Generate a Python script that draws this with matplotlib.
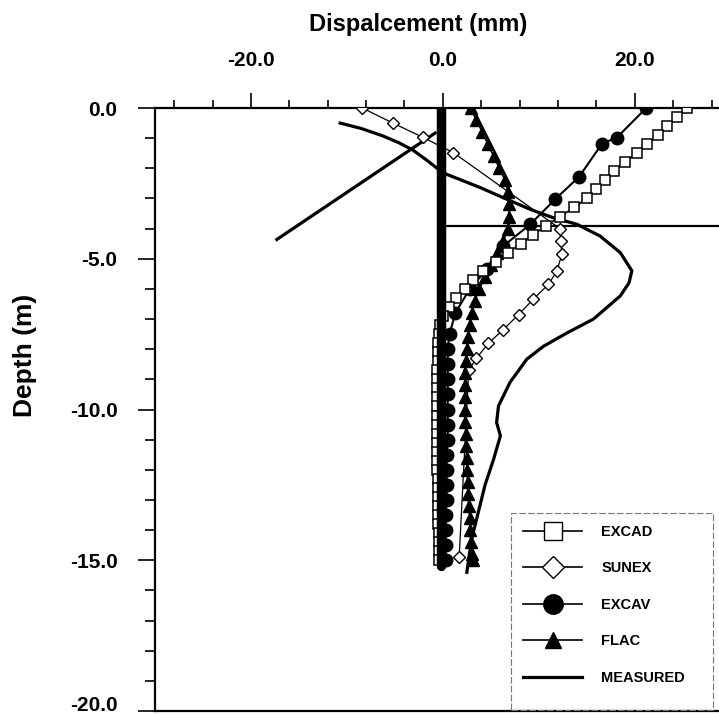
import matplotlib
matplotlib.use("Agg")
import matplotlib.pyplot as plt
from matplotlib.lines import Line2D
from matplotlib.patches import Rectangle

plt.rcParams['font.family'] = ['Liberation Sans', 'DejaVu Sans']
plt.rcParams['font.weight'] = 'bold'

# ---- data (displacement mm, depth m) ----
excad_d = [0.0, -0.3, -0.6, -0.9, -1.2, -1.5, -1.8, -2.1, -2.4, -2.7, -3.0,
           -3.3, -3.6, -3.9, -4.2, -4.5, -4.8, -5.1, -5.4, -5.7, -6.0, -6.3,
           -6.6, -6.9, -7.2, -7.5, -7.8, -8.1, -8.4, -8.7, -9.0, -9.3, -9.6,
           -9.9, -10.2, -10.5, -10.8, -11.1, -11.4, -11.7, -12.0, -12.3,
           -12.6, -12.9, -13.2, -13.5, -13.8, -14.1, -14.4, -14.7, -15.0]
excad_x = [25.4, 24.4, 23.4, 22.4, 21.3, 20.2, 19.0, 17.8, 16.9, 16.0, 15.0,
           13.7, 12.2, 10.8, 9.4, 8.1, 6.8, 5.5, 4.2, 3.1, 2.3, 1.4,
           0.6, 0.0, -0.3, -0.4, -0.5, -0.5, -0.5, -0.6, -0.6, -0.6, -0.6,
           -0.6, -0.6, -0.6, -0.6, -0.6, -0.6, -0.6, -0.6, -0.5,
           -0.5, -0.5, -0.5, -0.5, -0.5, -0.4, -0.4, -0.4, -0.4]

sunex_d = [0.0, -0.5, -0.97, -1.48, -4.0, -4.4, -4.85, -5.4, -5.85, -6.35,
           -6.85, -7.35, -7.8, -8.3, -8.7, -14.9]
sunex_x = [-8.4, -5.2, -2.1, 1.1, 12.2, 12.3, 12.4, 11.9, 11.0, 9.4,
           7.9, 6.3, 4.75, 3.5, 2.7, 1.7]

excav_d = [0.0, -0.99, -1.18, -2.28, -3.03, -3.86, -4.58, -5.35, -6.0, -6.8,
           -7.5, -8.0, -8.5, -9.0, -9.5, -10.0, -10.5, -11.0, -11.5, -12.0,
           -12.5, -13.0, -13.5, -14.0, -14.5, -15.0]
excav_x = [21.2, 18.1, 16.6, 14.2, 11.7, 9.1, 6.3, 4.6, 2.8, 1.3,
           0.7, 0.5, 0.5, 0.5, 0.5, 0.5, 0.5, 0.5, 0.4, 0.4,
           0.4, 0.4, 0.3, 0.3, 0.3, 0.3]

flac_d = [0.0, -0.4, -0.8, -1.2, -1.6, -2.0, -2.4, -2.8, -3.2, -3.6, -4.0,
          -4.4, -4.8, -5.2, -5.6, -6.0, -6.4, -6.8, -7.2, -7.6, -8.0, -8.4,
          -8.8, -9.2, -9.6, -10.0, -10.4, -10.8, -11.2, -11.6, -12.0, -12.4,
          -12.8, -13.2, -13.6, -14.0, -14.4, -14.8, -15.0]
flac_x = [2.9, 3.5, 4.1, 4.7, 5.3, 5.9, 6.5, 6.8, 6.9, 6.9, 6.8,
          6.3, 5.6, 5.0, 4.4, 3.8, 3.3, 3.0, 2.8, 2.6, 2.5, 2.4,
          2.3, 2.3, 2.3, 2.3, 2.3, 2.4, 2.4, 2.5, 2.5, 2.6,
          2.6, 2.7, 2.8, 2.8, 2.9, 3.0, 3.1]

measured_d = [-0.5, -0.68, -0.92, -1.15, -1.4, -1.75, -2.0, -2.2, -2.4, -2.64,
              -2.85, -3.03, -3.36, -3.64, -3.86, -4.25, -4.8, -5.4, -5.8,
              -6.23, -7.0, -7.45, -7.9, -8.33, -9.1, -9.88, -10.43, -10.87,
              -11.64, -12.5, -13.4, -14.3, -15.4]
measured_x = [-10.7, -8.5, -6.3, -4.6, -3.1, -1.6, -0.6, 0.4, 2.0, 3.9,
              5.4, 6.7, 9.1, 11.5, 14.0, 16.4, 18.5, 19.7, 19.4,
              18.5, 15.7, 13.0, 10.5, 8.75, 7.0, 5.8, 5.6, 6.0,
              5.3, 4.4, 3.7, 3.0, 2.5]

# second measured profile (straight segment, no markers)
measured2_d = [-4.36, -0.83]
measured2_x = [-17.3, -0.8]

wall_d = [0.0, -15.2]
wall_x = [-0.2, -0.2]
exc_level_d = [-3.9, -3.9]
exc_level_x = [0.3, 30.0]

x_ticks = [-20, 0, 20]
x_tick_labels = ["-20.0", "0.0", "20.0"]
y_ticks = [0, -5, -10, -15, -20]
y_tick_labels = ["0.0", "-5.0", "-10.0", "-15.0", "-20.0"]
x_minor = [-28, -24, -16, -12, -8, -4, 4, 8, 12, 16, 24, 28]
y_minor = [-1, -2, -3, -4, -6, -7, -8, -9, -11, -12, -13, -14,
           -16, -17, -18, -19]

fig = plt.figure(figsize=(7.19, 7.14), dpi=100)
ax = fig.add_axes([155/719, 3/714, 575.7/719, 603/714])

ax.plot(exc_level_x, exc_level_d, color='k', lw=1.6, zorder=2)
ax.plot(measured2_x, measured2_d, color='k', lw=2.3, zorder=3)
ax.plot(measured_x, measured_d, color='k', lw=2.3, zorder=3)
ax.plot(sunex_x, sunex_d, color='k', lw=0.9, marker='D', ms=6,
        mfc='white', mec='k', mew=1.0, zorder=4)
ax.plot(flac_x, flac_d, color='k', lw=1.2, marker='^', ms=8,
        mfc='k', mec='k', zorder=4)
ax.plot(excav_x, excav_d, color='k', lw=1.5, marker='o', ms=9,
        mfc='k', mec='k', zorder=5)
ax.plot(excad_x, excad_d, color='k', lw=1.2, marker='s', ms=7.2,
        mfc='white', mec='k', mew=1.1, zorder=5)
# wall drawn over the near-wall markers
ax.plot(wall_x, wall_d, color='k', lw=6.8, solid_capstyle='round', zorder=6)

ax.set_xlim(-30, 30)
ax.set_ylim(-20, 0)

ax.xaxis.tick_top()
ax.xaxis.set_label_position('top')
ax.set_xticks(x_ticks)
ax.set_xticklabels(x_tick_labels)
ax.set_xticks(x_minor, minor=True)
ax.set_yticks(y_ticks)
ax.set_yticklabels(y_tick_labels)
ax.set_yticks(y_minor, minor=True)

ax.tick_params(axis='x', which='major', direction='out', length=11, width=1.2,
               pad=16, labelsize=15)
ax.tick_params(axis='x', which='minor', direction='out', length=6, width=1.2)
ax.tick_params(axis='y', which='major', direction='out', length=12, width=1.2,
               pad=15, labelsize=15)
ax.tick_params(axis='y', which='minor', direction='out', length=7, width=1.2)
for lab in ax.get_xticklabels() + ax.get_yticklabels():
    lab.set_fontweight('bold')
ax.get_yticklabels()[-1].set_va('baseline')

for side in ['top', 'left', 'bottom']:
    ax.spines[side].set_linewidth(1.6)
ax.spines['right'].set_visible(False)

ax.set_xlabel("Dispalcement (mm)", fontsize=17, fontweight='bold')
ax.xaxis.set_label_coords((418 - 155) / 575.7, (711 - 25) / 603)
ax.xaxis.label.set_va('center')
ax.set_ylabel("Depth (m)", fontsize=19, fontweight='bold')
ax.yaxis.set_label_coords((25 - 155) / 575.7, (711 - 355) / 603)
ax.yaxis.label.set_va('center')

handles = [
    Line2D([], [], color='k', lw=1.2, marker='s', ms=13, mfc='white', mec='k'),
    Line2D([], [], color='k', lw=1.2, marker='D', ms=11, mfc='white', mec='k'),
    Line2D([], [], color='k', lw=1.2, marker='o', ms=14, mfc='k', mec='k'),
    Line2D([], [], color='k', lw=1.2, marker='^', ms=12, mfc='k', mec='k'),
    Line2D([], [], color='k', lw=2.3),
]
labels = ["EXCAD", "SUNEX", "EXCAV", "FLAC", "MEASURED"]
leg = ax.legend(handles, labels, loc='upper left',
                bbox_to_anchor=((511 - 155) / 575.7, (711 - 513) / 603),
                borderaxespad=0, frameon=False,
                prop={'weight': 'bold', 'size': 10.5},
                handlelength=4.1, handletextpad=1.3, labelspacing=1.55,
                borderpad=0.8)

# legend outline box
box = Rectangle(((511 - 155) / 575.7, (711 - 710) / 603),
                202 / 575.7, 197 / 603, transform=ax.transAxes,
                fill=False, edgecolor='#777777', lw=0.8,
                linestyle=(0, (6, 2)), zorder=7)
ax.add_patch(box)

fig.savefig("out.png", dpi=100)
